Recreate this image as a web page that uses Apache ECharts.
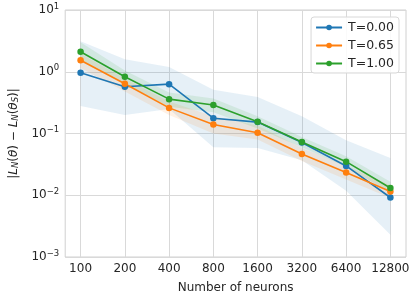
<!DOCTYPE html>
<html>
<head>
<meta charset="utf-8">
<script src="https://cdn.jsdelivr.net/npm/echarts@6/dist/echarts.min.js"></script>
<style>html,body{margin:0;padding:0;background:#fff}#c{width:416px;height:299px}</style>
</head>
<body>
<div id="c"></div>
<script>
const neurons = [100, 200, 400, 800, 1600, 3200, 6400, 12800];
const seriesNames = ['T=0.00', 'T=0.65', 'T=1.00'];
const t000 = [0.96, 0.57, 0.63, 0.177, 0.153, 0.0715, 0.0298, 0.0092];
const t065 = [1.54, 0.64, 0.26, 0.14, 0.103, 0.0465, 0.0233, 0.0115];
const t100 = [2.11, 0.83, 0.36, 0.29, 0.155, 0.073, 0.035, 0.0131];
const t000Lo = [0.28, 0.20, 0.25, 0.060, 0.058, 0.037, 0.0118, 0.0023];
const t000Hi = [3.13, 1.60, 1.19, 0.51, 0.39, 0.19, 0.078, 0.040];
const t065Lo = [1.15, 0.48, 0.20, 0.10, 0.080, 0.036, 0.018, 0.0090];
const t065Hi = [1.95, 0.78, 0.33, 0.19, 0.135, 0.058, 0.030, 0.0145];
const t100Lo = [1.50, 0.64, 0.27, 0.22, 0.12, 0.060, 0.029, 0.0110];
const t100Hi = [3.00, 1.05, 0.46, 0.37, 0.19, 0.088, 0.043, 0.0165];
const yTicks = [0.001, 0.01, 0.1, 1, 10];

const colors = ['#1f77b4', '#ff7f0e', '#2ca02c'];
const bandFills = ['rgba(31,119,180,0.11)', 'rgba(255,127,14,0.11)', 'rgba(44,160,44,0.11)'];
const FONT = 'DejaVu Sans';

function band(lo, hi, fill) {
  return {
    type: 'custom', silent: true, z: 1,
    data: [[neurons[0], hi[0]]],
    renderItem: function (params, api) {
      const pts = [];
      for (let i = 0; i < neurons.length; i++) pts.push(api.coord([neurons[i], hi[i]]));
      for (let i = neurons.length - 1; i >= 0; i--) pts.push(api.coord([neurons[i], lo[i]]));
      return { type: 'polygon', shape: { points: pts }, style: { fill: fill } };
    }
  };
}
function line(name, vals, color) {
  return {
    name: name, type: 'line', z: 3,
    data: neurons.map((n, i) => [n, vals[i]]),
    symbol: 'circle', symbolSize: 6.5, showSymbol: true,
    lineStyle: { color: color, width: 1.6 },
    itemStyle: { color: color },
    emphasis: { disabled: true },
    animation: false
  };
}

const chart = echarts.init(document.getElementById('c'), null, { renderer: 'canvas' });
chart.setOption({
  animation: false,
  backgroundColor: '#ffffff',
  textStyle: { fontFamily: FONT },
  grid: { left: 57, right: 10, top: 10, bottom: 39, show: true, borderColor: '#d0d0d0', borderWidth: 1, backgroundColor: 'transparent' },
  legend: {
    data: seriesNames,
    right: 17, top: 17, orient: 'vertical',
    itemWidth: 26, itemHeight: 7, itemGap: 3,
    padding: [3, 5, 2, 4],
    backgroundColor: 'rgba(255,255,255,0.85)', borderColor: '#d8d8d8', borderWidth: 1, borderRadius: 3,
    textStyle: { fontFamily: FONT, fontSize: 12.5, color: '#262626', padding: [0, 0, 0, 1], lineHeight: 15 }
  },
  xAxis: {
    type: 'log', logBase: 2, min: 78.6, max: 16350,
    name: 'Number of neurons', nameLocation: 'middle', nameGap: 25,
    nameTextStyle: { fontFamily: FONT, fontSize: 12, color: '#262626' },
    axisLine: { show: false }, axisTick: { show: false, customValues: neurons },
    axisLabel: { customValues: neurons, fontFamily: FONT, fontSize: 12, color: '#262626', margin: 6, formatter: v => String(Math.round(v)) },
    splitLine: { show: true, lineStyle: { color: '#d9d9d9', width: 1 } }
  },
  yAxis: {
    type: 'log', logBase: 10, min: 0.001, max: 10,
    name: '|{i|L}{sub|N}({i|θ}) − {i|L}{sub|N}({i|θ}{sub|S})|', nameLocation: 'middle', nameGap: 40, nameRotate: 90,
    nameTextStyle: {
      fontFamily: FONT, fontSize: 12, color: '#262626',
      rich: {
        i: { fontFamily: FONT, fontSize: 12, fontStyle: 'italic', color: '#262626' },
        sub: { fontFamily: FONT, fontSize: 8.5, fontStyle: 'italic', color: '#262626', verticalAlign: 'bottom', padding: [4, 0, 0, 0] }
      }
    },
    axisLine: { show: false }, axisTick: { show: false },
    axisLabel: {
      fontFamily: FONT, fontSize: 12, color: '#262626', margin: 6,
      formatter: function (v) {
        const e = Math.round(Math.log10(v));
        return '{b|10}{s|' + (e < 0 ? '−' + (-e) : e) + '}';
      },
      rich: {
        b: { fontFamily: FONT, fontSize: 12, color: '#262626', lineHeight: 16 },
        s: { fontFamily: FONT, fontSize: 8.5, color: '#262626', verticalAlign: 'top', lineHeight: 10, padding: [0, 0, 6, 0] }
      }
    },
    splitLine: { show: true, lineStyle: { color: '#d9d9d9', width: 1 } }
  },
  series: [
    band(t000Lo, t000Hi, bandFills[0]),
    band(t065Lo, t065Hi, bandFills[1]),
    band(t100Lo, t100Hi, bandFills[2]),
    line(seriesNames[0], t000, colors[0]),
    line(seriesNames[1], t065, colors[1]),
    line(seriesNames[2], t100, colors[2])
  ]
});
</script>
</body>
</html>
